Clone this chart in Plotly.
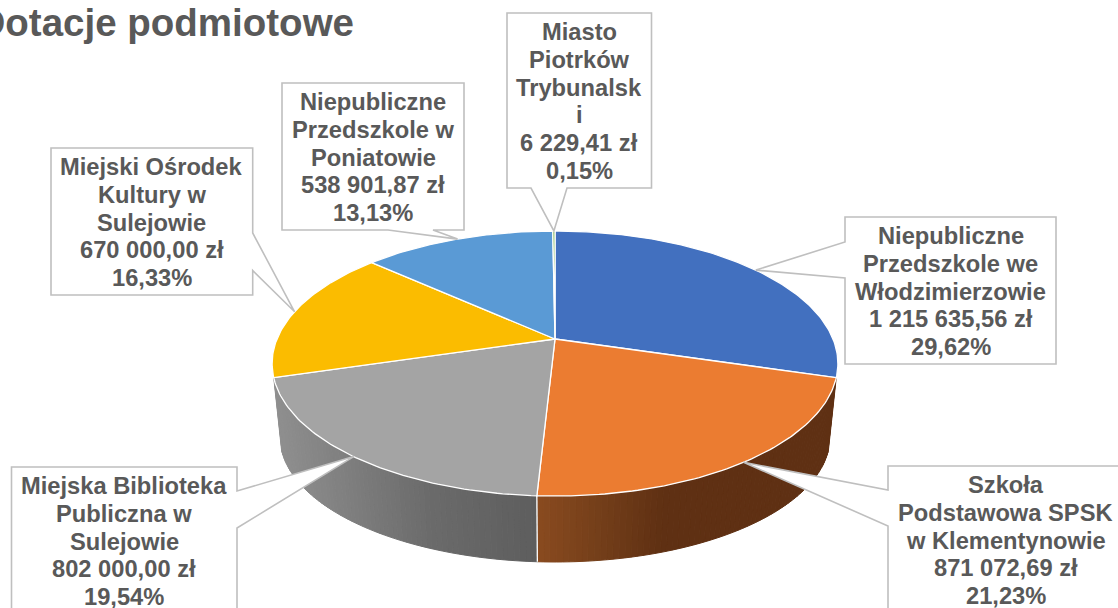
import math
import plotly.graph_objects as go

# ---- data ----
names = [
    ["Niepubliczne", "Przedszkole we", "Włodzimierzowie"],
    ["Szkoła", "Podstawowa SPSK", "w Klementynowie"],
    ["Miejska Biblioteka", "Publiczna w", "Sulejowie"],
    ["Miejski Ośrodek", "Kultury w", "Sulejowie"],
    ["Niepubliczne", "Przedszkole w", "Poniatowie"],
    ["Miasto", "Piotrków", "Trybunalsk", "i"],
]
values = [1215635.56, 871072.69, 802000.00, 670000.00, 538901.87, 6229.41]
title_text = "Dotacje podmiotowe"

# ---- style ----
colors = ["#4270BF", "#EB7C31", "#A4A4A4", "#FBBC00", "#5A9AD5", "#70AD47"]
TEXT = "#595959"
EDGE = "#BFBFBF"
FONT = "Liberation Sans, Arial, sans-serif"
LABEL_SIZE = 23.7
LINE_STEP = 27.7

# ---- projection of the tilted disc onto the axes (axis units = pixels) ----
CX, CY = 555.0, 339.0
KX, KY, PERSP = 278.0, 128.0, 0.185
ELL_CY = 363.5
BOT_CY, BOT_SX, BOT_SY = 437.0, 0.972, 0.943


def top(angle):
    x, y = math.sin(angle), -math.cos(angle)
    d = 1 - PERSP * y
    return CX + KX * x / d, CY + KY * y / d


def bottom(angle):
    x, y = top(angle)
    return CX + BOT_SX * (x - CX), BOT_CY + BOT_SY * (y - ELL_CY)


def lerp_stops(stops, x):
    if x <= stops[0][0]:
        return stops[0][1]
    for (x0, c0), (x1, c1) in zip(stops, stops[1:]):
        if x <= x1:
            t = (x - x0) / (x1 - x0)
            return tuple(a + (b - a) * t for a, b in zip(c0, c1))
    return stops[-1][1]


total = sum(values)
edges = [0.0]
for v in values:
    edges.append(edges[-1] + v / total * 2 * math.pi)

fig = go.Figure()

# side wall, one slim strip at a time so the shading can vary
wall_shades = {
    1: [(537, (138, 75, 32)), (600, (116, 63, 26)), (665, (95, 48, 19)), (840, (95, 48, 19))],
    2: [(275, (143, 143, 143)), (320, (133, 133, 133)), (430, (107, 107, 107)), (537, (94, 94, 94))],
}
STRIPS = 70
for idx, stops in wall_shades.items():
    a0, a1 = edges[idx], edges[idx + 1]
    for k in range(STRIPS):
        p = a0 + (a1 - a0) * k / STRIPS
        q = a0 + (a1 - a0) * (k + 1) / STRIPS
        pts = [top(p), top(q), bottom(q), bottom(p)]
        xm = (pts[0][0] + pts[1][0]) / 2
        rgb = "rgb(%d,%d,%d)" % lerp_stops(stops, xm)
        fig.add_trace(go.Scatter(
            x=[t[0] for t in pts] + [pts[0][0]],
            y=[t[1] for t in pts] + [pts[0][1]],
            mode="lines", fill="toself", fillcolor=rgb,
            line=dict(color=rgb, width=1), hoverinfo="skip", showlegend=False,
        ))

# white seam between the two wall sections
seam_a = edges[2]
fig.add_trace(go.Scatter(
    x=[top(seam_a)[0], bottom(seam_a)[0]], y=[top(seam_a)[1], bottom(seam_a)[1]],
    mode="lines", line=dict(color="white", width=1.3), hoverinfo="skip", showlegend=False,
))

# top face
for i, v in enumerate(values):
    a0, a1 = edges[i], edges[i + 1]
    n = max(2, int((a1 - a0) * 60))
    arc = [top(a0 + (a1 - a0) * k / n) for k in range(n + 1)]
    fig.add_trace(go.Scatter(
        x=[CX] + [t[0] for t in arc] + [CX],
        y=[CY] + [t[1] for t in arc] + [CY],
        mode="lines", fill="toself", fillcolor=colors[i],
        line=dict(color="white", width=1.3), name=" ".join(names[i]).strip(),
        hoverinfo="name", showlegend=False,
    ))

# callout boxes: left, right, top, bottom, tail side, tail base start/end
boxes = [
    (845, 1056, 217, 364, "left", 242, 278),
    (888, 1123, 466, 613, "left", 490, 526),
    (11.5, 237, 467, 614, "right", 491, 528),
    (51, 252.7, 148, 295, "right", 233, 270.5),
    (282, 464, 83, 230, "bottom", 388, 433),
    (507, 651.5, 13, 188, "bottom", 531, 567),
]


def fmt(v):
    s = f"{v:,.2f}".replace(",", " ").replace(".", ",")
    return s + " zł"


shapes, annotations = [], []
for i, (l, r, t, b, side, s0, s1) in enumerate(boxes):
    tip = top((edges[i] + edges[i + 1]) / 2)
    tip_s = f"L{tip[0]:.1f},{tip[1]:.1f} "
    if side == "left":
        d = f"M{l},{t} L{r},{t} L{r},{b} L{l},{b} L{l},{s1} {tip_s}L{l},{s0} Z"
    elif side == "right":
        d = f"M{l},{t} L{r},{t} L{r},{s0} {tip_s}L{r},{s1} L{r},{b} L{l},{b} Z"
    else:
        d = f"M{l},{t} L{r},{t} L{r},{b} L{s1},{b} {tip_s}L{s0},{b} L{l},{b} Z"
    shapes.append(dict(type="path", path=d, xref="x", yref="y",
                       fillcolor="white", line=dict(color=EDGE, width=1.6), layer="above"))
    pct = f"{values[i] / total * 100:.2f}".replace(".", ",") + "%"
    lines = names[i] + [fmt(values[i]), pct]
    mid = (t + b) / 2 + 1
    for k, line in enumerate(lines):
        annotations.append(dict(
            x=(l + r) / 2, y=mid + (k - (len(lines) - 1) / 2) * LINE_STEP,
            xref="x", yref="y", text=line, showarrow=False,
            xanchor="center", yanchor="middle", align="center",
            font=dict(family=FONT, size=LABEL_SIZE, color=TEXT, weight="bold"),
        ))

fig.update_layout(
    width=1118, height=608, autosize=False,
    margin=dict(l=0, r=0, t=0, b=0),
    paper_bgcolor="white", plot_bgcolor="white",
    xaxis=dict(visible=False, range=[0, 1118], fixedrange=True),
    yaxis=dict(visible=False, range=[608, 0], fixedrange=True),
    shapes=shapes, annotations=annotations,
    title=dict(
        text=f"<b>{title_text}</b>", x=354 / 1118, xanchor="right", xref="container",
        y=1 - 23 / 608, yanchor="middle", yref="container",
        font=dict(family=FONT, size=38.5, color=TEXT),
    ),
)

fig.write_html("out.html", post_script="document.body.style.margin='0';",
               config={"displayModeBar": False})
